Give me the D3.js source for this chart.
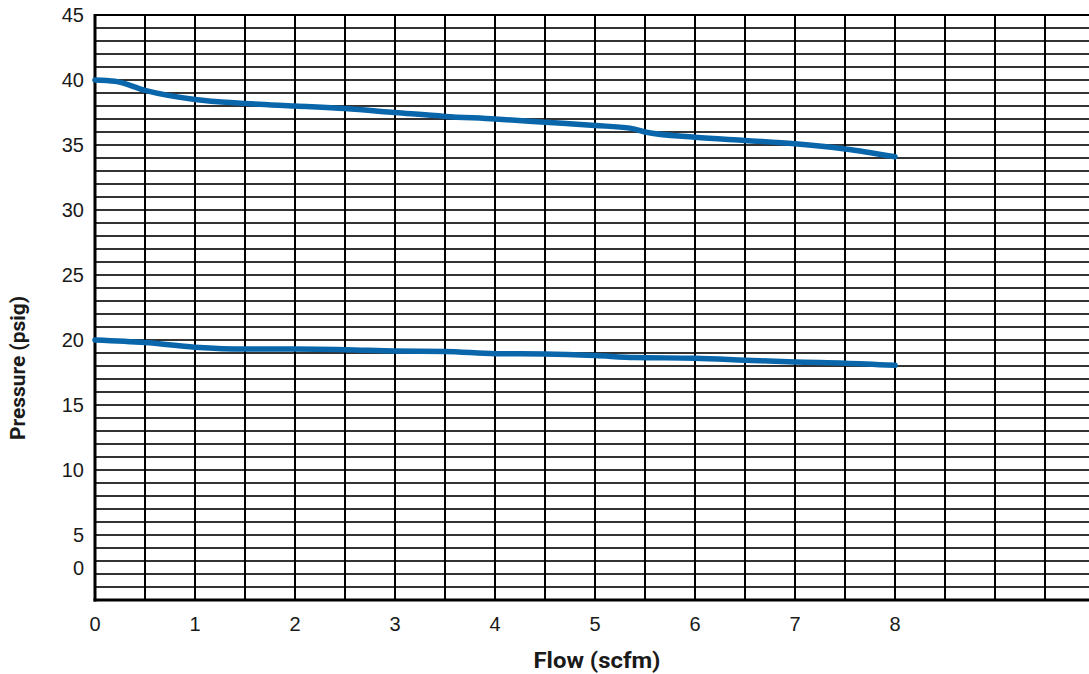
<!DOCTYPE html>
<html>
<head>
<meta charset="utf-8">
<script src="https://cdn.jsdelivr.net/npm/d3@7"></script>
<style>
  html, body { margin: 0; padding: 0; background: #fff; }
  svg { display: block; }
</style>
</head>
<body>
<svg id="chart" width="1089" height="674"></svg>
<script>
// ---- data ----
const flow = [0, 0.2, 0.5, 1, 1.5, 2, 2.5, 3, 3.5, 4, 4.5, 5, 5.35, 5.5, 6, 6.5, 7, 7.5, 8];
const upperPressure = [40, 39.9, 39.2, 38.5, 38.2, 38.0, 37.8, 37.5, 37.2, 37.0, 36.75, 36.5, 36.3, 36.0, 35.6, 35.35, 35.1, 34.7, 34.1];
const lowerFlow = [0, 0.5, 1, 1.5, 2, 2.5, 3, 3.5, 4, 4.5, 5, 5.4, 6, 6.5, 7, 7.5, 8];
const lowerPressure = [20, 19.8, 19.45, 19.3, 19.3, 19.25, 19.15, 19.12, 18.95, 18.92, 18.8, 18.65, 18.6, 18.45, 18.3, 18.22, 18.05];
const xTickValues = [0, 1, 2, 3, 4, 5, 6, 7, 8];
const xTickLabels = ["0", "1", "2", "3", "4", "5", "6", "7", "8"];
const yTickValues = [2.5, 5, 10, 15, 20, 25, 30, 35, 40, 45];
const yTickLabels = ["0", "5", "10", "15", "20", "25", "30", "35", "40", "45"];
const xTitle = "Flow (scfm)";
const yTitle = "Pressure (psig)";

// ---- layout ----
const W = 1089, H = 674;
const mLeft = 95, mTop = 15, mBottom = 600;
const svg = d3.select("#chart");

const x = d3.scaleLinear().domain([0, 10]).range([mLeft, mLeft + 1000]);
const y = d3.scaleLinear().domain([0, 45]).range([mBottom, mTop]);

const g = svg.append("g");

// horizontal grid lines every 1 unit
g.selectAll("line.h").data(d3.range(1, 46)).enter().append("line")
  .attr("x1", mLeft).attr("x2", W)
  .attr("y1", d => y(d)).attr("y2", d => y(d))
  .attr("stroke", d => d === 45 ? "#000" : "#333")
  .attr("stroke-width", 2);

// vertical grid lines every 0.5
g.selectAll("line.v").data(d3.range(0.5, 10, 0.5)).enter().append("line")
  .attr("x1", d => x(d)).attr("x2", d => x(d))
  .attr("y1", mTop).attr("y2", mBottom)
  .attr("stroke", "#000")
  .attr("stroke-width", 2);

// axes frame lines
g.append("line").attr("x1", mLeft).attr("x2", mLeft).attr("y1", mTop - 1).attr("y2", mBottom + 1.5)
  .attr("stroke", "#000").attr("stroke-width", 3);
g.append("line").attr("x1", mLeft - 1.5).attr("x2", W).attr("y1", mBottom).attr("y2", mBottom)
  .attr("stroke", "#000").attr("stroke-width", 3);

// tick labels
const font = "'Liberation Sans', Arial, sans-serif";
g.selectAll("text.yt").data(yTickValues).enter().append("text")
  .attr("x", 84).attr("y", d => y(d))
  .attr("dy", "0.36em")
  .attr("text-anchor", "end")
  .attr("font-family", font).attr("font-size", 20).attr("fill", "#1a1a1a")
  .text((d, i) => yTickLabels[i]);

g.selectAll("text.xt").data(xTickValues).enter().append("text")
  .attr("x", d => x(d)).attr("y", 630.5)
  .attr("text-anchor", "middle")
  .attr("font-family", font).attr("font-size", 20).attr("fill", "#1a1a1a")
  .text((d, i) => xTickLabels[i]);

// axis titles
const titleFont = "'Liberation Sans Narrow', 'Roboto', sans-serif";
g.append("text")
  .attr("x", 597).attr("y", 668)
  .attr("text-anchor", "middle")
  .attr("font-family", titleFont).attr("font-weight", "bold").attr("font-size", 22).attr("fill", "#1a1a1a")
  .attr("textLength", 127).attr("lengthAdjust", "spacingAndGlyphs")
  .text(xTitle);
g.append("text")
  .attr("transform", "translate(25,368) rotate(-90)")
  .attr("text-anchor", "middle")
  .attr("font-family", titleFont).attr("font-weight", "bold").attr("font-size", 20).attr("fill", "#1a1a1a")
  .attr("textLength", 144).attr("lengthAdjust", "spacingAndGlyphs")
  .text(yTitle);

// curves
const line = d3.line().curve(d3.curveMonotoneX).x(d => x(d[0])).y(d => y(d[1]));
const color = "#0966aa";
g.append("path")
  .datum(flow.map((f, i) => [f, upperPressure[i]]))
  .attr("d", line).attr("fill", "none")
  .attr("stroke", color).attr("stroke-width", 5.5).attr("stroke-linecap", "round");
g.append("path")
  .datum(lowerFlow.map((f, i) => [f, lowerPressure[i]]))
  .attr("d", line).attr("fill", "none")
  .attr("stroke", color).attr("stroke-width", 5.5).attr("stroke-linecap", "round");
</script>
</body>
</html>
